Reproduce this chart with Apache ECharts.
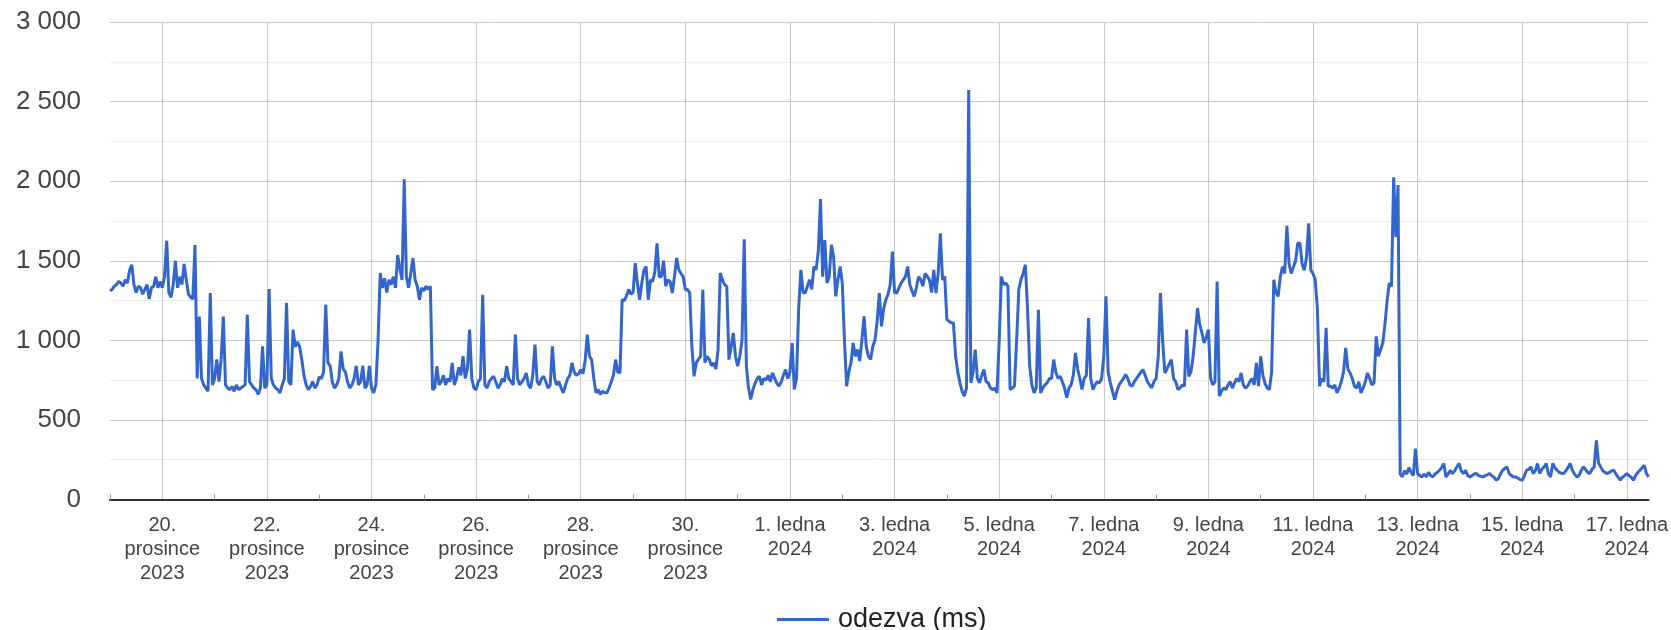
<!DOCTYPE html>
<html>
<head>
<meta charset="utf-8">
<script src="https://cdn.jsdelivr.net/npm/echarts@6/dist/echarts.min.js"></script>
<style>
html,body{margin:0;padding:0;background:#fff;}
#chart{width:1671px;height:630px;}
</style>
</head>
<body>
<div id="chart"></div>
<script>
// Hourly response times (ms), starting 19. prosince 2023 00:00
const week1 = [ // 19.–25. prosince 2023
  1310,1320,1340,1350,1370,1360,1340,1380,1360,1440,1475,1350,1300,1340,1330,1290,1320,1350,1260,1330,1340,1400,1330,1370,
  1330,1400,1626,1300,1270,1350,1500,1330,1400,1350,1480,1380,1290,1270,1260,1599,760,1150,760,720,700,680,1297,720,
  760,880,740,880,1150,720,700,690,710,680,720,690,700,710,720,1160,740,720,700,690,660,700,962,700,
  720,1322,760,720,700,690,670,720,760,1234,740,720,1067,960,990,960,880,780,720,690,710,740,700,720,
  770,760,800,1224,860,840,740,700,720,760,931,820,800,740,700,720,760,840,720,740,840,700,720,840,
  700,670,720,1000,1423,1330,1390,1300,1380,1350,1400,1330,1536,1450,1380,2012,1400,1330,1420,1517,1380,1340,1255,1330,
  1310,1340,1320,1339,690,700,837,720,740,780,720,760,740,858,720,760,830,780,900,760,820,1067,760,700
];
const week2 = [ // 26. prosince 2023 – 1. ledna 2024
  690,740,760,1286,720,700,740,760,774,740,700,720,760,740,837,760,740,720,1036,760,720,740,760,795,
  720,700,780,973,740,720,760,774,740,700,720,962,760,720,740,700,670,720,760,780,858,800,780,790,
  816,790,870,1036,900,879,760,670,690,660,680,670,670,700,740,780,879,800,795,1255,1250,1280,1320,1290,
  1300,1485,1360,1255,1360,1440,1464,1255,1380,1370,1430,1610,1400,1400,1500,1340,1380,1370,1297,1400,1517,1443,1420,1400,
  1318,1320,1297,960,774,860,880,900,1318,860,900,879,840,858,820,940,1423,1380,1350,1339,879,960,1046,900,
  837,900,1000,1635,837,700,628,691,730,760,774,720,760,750,780,740,795,760,730,712,740,780,816,760,
  800,983,691,760,1200,1443,1300,1297,1340,1380,1320,1464,1443,1560,1888,1400,1630,1360,1400,1600,1527,1276,1380,1464
];
const week3 = [ // 2.–8. ledna 2024
  1360,1000,712,800,860,983,900,942,870,1000,1151,962,900,880,962,1000,1120,1297,1088,1200,1255,1290,1350,1557,
  1300,1297,1330,1360,1380,1400,1464,1350,1310,1276,1330,1400,1381,1340,1420,1402,1380,1300,1443,1297,1420,1673,1380,1402,
  1130,1120,1110,1109,900,800,733,680,650,700,2573,733,800,942,760,733,780,816,740,733,700,690,700,670,
  1000,1400,1350,1360,1339,691,700,712,1000,1318,1380,1420,1475,1200,837,720,670,700,1192,670,700,720,733,760,
  760,879,800,760,774,740,700,639,700,720,780,921,820,760,691,760,780,1140,760,691,720,740,733,760,
  900,1276,800,733,680,628,680,720,740,760,785,760,720,712,740,760,780,800,816,780,740,720,702,740,
  760,900,1297,1000,795,820,850,879,760,740,691,700,720,712,1067,774,800,900,1050,1203,1100,1050,983,1020
];
const week4 = [ // 9.–15. ledna 2024
  1067,763,720,740,1370,650,680,700,691,720,740,700,733,760,740,795,720,700,712,740,760,720,858,712,
  900,780,730,700,691,800,1381,1300,1276,1400,1464,1420,1720,1481,1420,1460,1500,1610,1610,1480,1440,1520,1735,1440,
  1420,1381,1200,712,760,740,1078,712,712,700,720,670,700,740,800,952,820,795,760,712,700,740,670,700,
  740,795,760,720,733,1025,900,940,983,1100,1250,1360,1339,2024,1650,1976,160,143,180,160,200,170,150,320,
  163,150,142,160,142,170,150,142,160,170,184,200,226,142,160,184,163,180,205,226,180,163,184,150,
  142,150,160,163,150,145,142,150,155,163,150,140,121,130,160,184,195,205,163,150,142,142,135,125,
  121,150,184,190,205,163,180,226,163,190,205,226,160,142,226,200,184,170,165,163,180,200,226,184
];
const week5 = [ // 16.–17. ledna 2024
  160,142,150,180,205,190,170,163,190,205,372,230,205,180,170,163,170,180,184,160,140,121,140,150,
  163,150,140,121,150,170,184,200,215,163,142
];
const seriesName = 'odezva (ms)';
// x-axis tick labels (every second day, from 20. prosince 2023, hour 24)
const tickLabels = [
  '20.\nprosince\n2023','22.\nprosince\n2023','24.\nprosince\n2023','26.\nprosince\n2023',
  '28.\nprosince\n2023','30.\nprosince\n2023','1. ledna\n2024','3. ledna\n2024','5. ledna\n2024',
  '7. ledna\n2024','9. ledna\n2024','11. ledna\n2024','13. ledna\n2024','15. ledna\n2024','17. ledna\n2024'
];
const yTicks = [0, 500, 1000, 1500, 2000, 2500, 3000];

const values = week1.concat(week2, week3, week4, week5);
const data = values.map((v, i) => [i, v]);
const lastHour = values.length - 1;
const majorHours = tickLabels.map((_, i) => 24 + 48 * i);
const minorHours = [];
for (let h = 0; h <= lastHour; h += 48) minorHours.push(h);

const FONT = '"Liberation Sans", Arial, sans-serif';
const fmtNum = v => String(v).replace(/\B(?=(\d{3})+(?!\d))/g, ' ');

const chart = echarts.init(document.getElementById('chart'), null, {renderer: 'canvas'});
chart.setOption({
  animation: false,
  textStyle: {fontFamily: FONT},
  grid: {left: 110, right: 22, top: 22, bottom: 130.5, containLabel: false},
  legend: {
    data: [seriesName],
    top: 601,
    left: 772,
    icon: 'rect',
    itemWidth: 52,
    itemHeight: 3,
    itemGap: 10,
    textStyle: {fontFamily: FONT, fontSize: 27, color: '#222', padding: [0, 0, 0, 4]}
  },
  xAxis: [
    {
      type: 'value', min: 0, max: lastHour, position: 'bottom',
      axisLine: {show: true, lineStyle: {color: '#333', width: 2}},
      axisTick: {show: true, inside: true, length: 5, customValues: minorHours, lineStyle: {color: '#999'}},
      axisLabel: {show: false},
      splitLine: {show: false}
    },
    {
      type: 'value', min: 0, max: lastHour, position: 'bottom',
      axisLine: {show: false},
      axisTick: {show: false, customValues: majorHours},
      axisLabel: {
        show: true, customValues: majorHours, margin: 14,
        fontFamily: FONT, fontSize: 20, lineHeight: 24, color: '#444',
        formatter: v => tickLabels[Math.round((v - 24) / 48)]
      },
      splitLine: {show: true, lineStyle: {color: '#c8c8c8', width: 1}}
    }
  ],
  yAxis: {
    type: 'value', min: yTicks[0], max: yTicks[yTicks.length - 1], interval: 500,
    axisLine: {show: false},
    axisTick: {show: false},
    axisLabel: {
      margin: 29, fontFamily: FONT, fontSize: 26, color: '#444',
      formatter: v => fmtNum(v)
    },
    splitLine: {lineStyle: {color: '#c8c8c8', width: 1}},
    minorTick: {show: false, splitNumber: 2},
    minorSplitLine: {show: true, lineStyle: {color: '#ebebeb', width: 1}}
  },
  series: [{
    name: seriesName,
    type: 'line',
    xAxisIndex: 0,
    data: data,
    showSymbol: false,
    symbol: 'none',
    lineStyle: {color: '#3366cc', width: 3},
    itemStyle: {color: '#3366cc'},
    z: 5
  }]
});
</script>
</body>
</html>
